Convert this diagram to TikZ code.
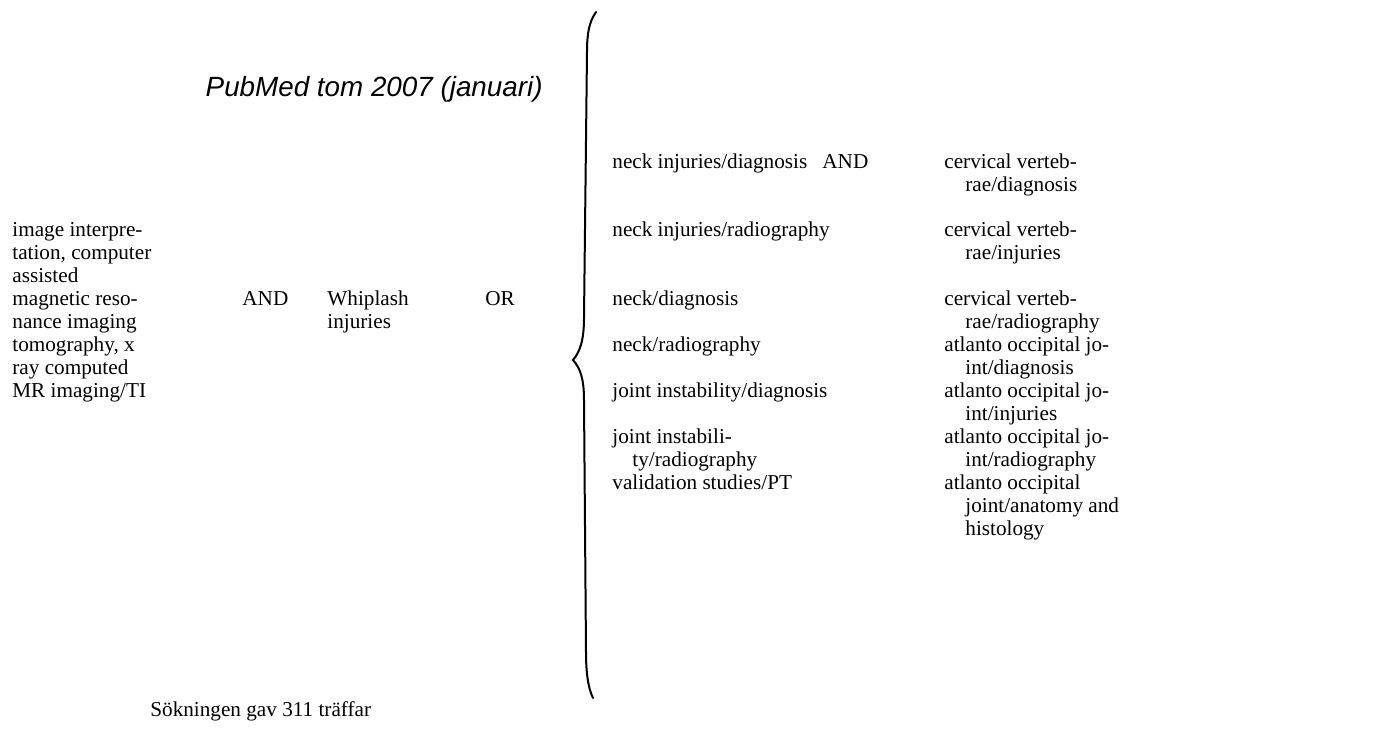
\documentclass[tikz,border=0pt]{standalone}
\usepackage{fontspec}
\setmainfont{Liberation Serif}
\newfontfamily\titlefont{Liberation Sans}
\usetikzlibrary{positioning}

% lines of one entry, first line on the node's baseline
\newcommand{\entry}[1]{\begin{tabular}[t]{@{}l@{}}#1\end{tabular}}

\begin{document}
\begin{tikzpicture}[
  x=0.5pt, y=-0.5pt,
  txt/.style={anchor=base west, inner sep=0pt, font=\fontsize{10.6}{11.5}\selectfont},
  opr/.style={txt}
]
\useasboundingbox (0,0) rectangle (1389,742);

% Title
\node[anchor=base east, inner sep=0pt, font=\titlefont\itshape\fontsize{13.9}{16}\selectfont] (title) at (543,97) {PubMed tom 2007 (januari)};

% Left column
\node[txt] (img)  at (12,237) {\entry{image interpre-\\tation, computer\\assisted}};
\node[txt] (mri)  at (12,306) {\entry{magnetic reso-\\nance imaging}};
\node[txt] (ct)   at (12,352) {\entry{tomography, x\\ray computed}};
\node[txt] (mrti) at (12,398) {MR imaging/TI};

\node[opr] (and1) at (242,306) {AND};
\node[txt] (whip) at (327,306) {\entry{Whiplash\\injuries}};
\node[opr] (or1)  at (485,306) {OR};

% Brace
\draw[line width=1pt, line cap=round]
  (596,12) .. controls (589,22) and (587,34) .. (587,52)
  -- (584,318) .. controls (584,340) and (580,352) .. (573,360)
  .. controls (580,368) and (584,378) .. (584,400)
  -- (586,652) .. controls (586,672) and (588,688) .. (593,698);

% Middle column
\node[txt] (n1) at (612,169) {neck injuries/diagnosis};
\node[txt] (n2) at (612,237) {neck injuries/radiography};
\node[txt] (n3) at (612,306) {neck/diagnosis};
\node[txt] (n4) at (612,352) {neck/radiography};
\node[txt] (n5) at (612,398) {joint instability/diagnosis};
\node[txt] (n6) at (612,444) {\entry{joint instabili-\\\hspace*{10pt}ty/radiography}};
\node[txt] (n7) at (612,490) {validation studies/PT};

\node[opr] (and2) at (822,169) {AND};

% Right column
\node[txt] (c1) at (944,169) {\entry{cervical verteb-\\\hspace*{10.5pt}rae/diagnosis}};
\node[txt] (c2) at (944,237) {\entry{cervical verteb-\\\hspace*{10.5pt}rae/injuries}};
\node[txt] (c3) at (944,306) {\entry{cervical verteb-\\\hspace*{10.5pt}rae/radiography}};
\node[txt] (c4) at (944,352) {\entry{atlanto occipital jo-\\\hspace*{10.5pt}int/diagnosis}};
\node[txt] (c5) at (944,398) {\entry{atlanto occipital jo-\\\hspace*{10.5pt}int/injuries}};
\node[txt] (c6) at (944,444) {\entry{atlanto occipital jo-\\\hspace*{10.5pt}int/radiography}};
\node[txt] (c7) at (944,490) {\entry{atlanto occipital\\\hspace*{10.5pt}joint/anatomy and\\\hspace*{10.5pt}histology}};

% Result
\node[txt] (sok) at (150,717) {Sökningen gav 311 träffar};

\end{tikzpicture}
\end{document}
